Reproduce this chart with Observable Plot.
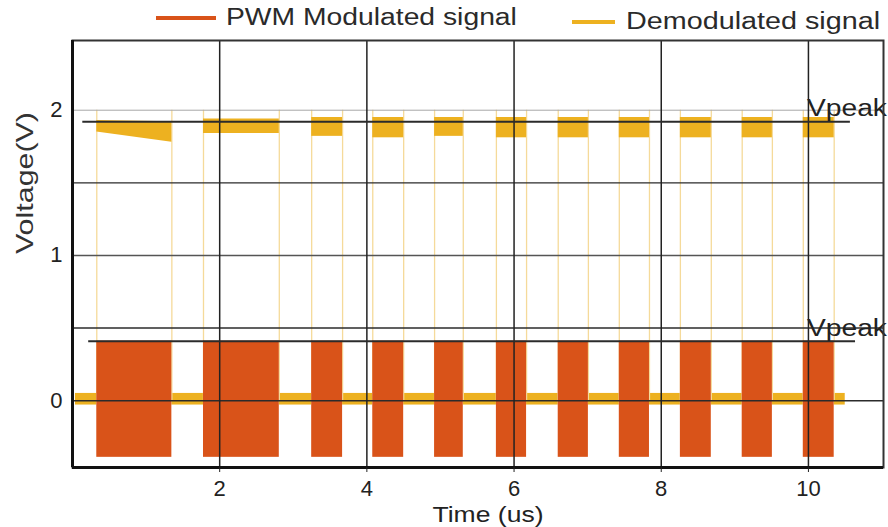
<!DOCTYPE html>
<html><head><meta charset="utf-8">
<script src="https://cdn.jsdelivr.net/npm/d3@7"></script>
<script src="https://cdn.jsdelivr.net/npm/@observablehq/plot@0.6"></script>
<style>
body{margin:0;background:#fff;font-family:"Liberation Sans",Arial,sans-serif;}
#legend{position:relative;height:36px;width:888px;overflow:hidden;}
.sw{position:absolute;height:4px;}
.lt{position:absolute;font-size:23px;line-height:23px;color:#2a2a2a;white-space:nowrap;transform-origin:left center;}
</style></head><body>
<div id="legend"></div>
<div id="chart"></div>
<script>
// ---- data ----
const seriesNames = ["PWM Modulated signal", "Demodulated signal"];
const seriesColors = ["#D95319", "#EDB120"];

// PWM pulse edges (us)
const pulseStart = [0.33, 1.78, 3.25, 4.08, 4.92, 5.76, 6.60, 7.43, 8.26, 9.10, 9.93];
const pulseEnd   = [1.35, 2.81, 3.67, 4.50, 5.31, 6.17, 7.01, 7.84, 8.68, 9.51, 10.35];
const pwmHigh = 0.41;
const pwmLow = -0.39;

// Demodulated signal: high level band per pulse (V)
const highTopStart    = [1.93, 1.94, 1.95, 1.95, 1.95, 1.95, 1.95, 1.95, 1.95, 1.95, 1.95];
const highTopEnd      = [1.92, 1.94, 1.95, 1.95, 1.95, 1.95, 1.95, 1.95, 1.95, 1.95, 1.95];
const highBottomStart = [1.85, 1.84, 1.82, 1.81, 1.82, 1.81, 1.81, 1.81, 1.81, 1.81, 1.81];
const highBottomEnd   = [1.78, 1.84, 1.82, 1.81, 1.82, 1.81, 1.81, 1.81, 1.81, 1.81, 1.81];
// low level band (V) and signal span (us)
const lowTop = 0.05;
const lowBottom = -0.03;
const signalStart = 0.04;
const signalEnd = 10.5;
const edgeTop = 2.0;

// reference levels
const gridLevels = [0, 0.5, 1, 1.5, 2];
const vpeakLevels = [1.92, 0.41];
const vpeakFrom = [0.14, 0.22];
const vpeakTo = [10.57, 10.64];
const vpeakLabelAt = 9.98;
const vpeakText = "Vpeak";

// ticks
const xTicks = [2, 4, 6, 8, 10];
const yTicks = [0, 1, 2];
const xDomain = [0, 11.02];
const yDomain = [-0.46, 2.48];
const xLabel = "Time (us)";
const yLabel = "Voltage(V)";

// ---- legend ----
const legend = document.getElementById("legend");
legend.innerHTML = `
  <div class="sw" style="left:156px;top:16px;width:60px;background:${seriesColors[0]}"></div>
  <div class="lt" style="left:226px;top:6px;transform:scaleX(1.23)">${seriesNames[0]}</div>
  <div class="sw" style="left:572px;top:20px;width:43px;background:${seriesColors[1]}"></div>
  <div class="lt" style="left:626px;top:10px;transform:scaleX(1.25)">${seriesNames[1]}</div>`;

// ---- derived tables ----
const lowStart = [signalStart, ...pulseEnd];
const lowEnd = [...pulseStart, signalEnd];
const lowSegs = lowStart.map((s, i) => ({x1: s, x2: lowEnd[i]}));
const pulses = pulseStart.map((s, i) => ({x1: s, x2: pulseEnd[i]}));
const highPts = pulseStart.flatMap((s, i) => [
  {t: s, lo: highBottomStart[i], hi: highTopStart[i], b: i},
  {t: pulseEnd[i], lo: highBottomEnd[i], hi: highTopEnd[i], b: i}
]);
const edges = [...pulseStart, ...pulseEnd];
const vpeaks = vpeakLevels.map((v, i) => ({v, x1: vpeakFrom[i], x2: vpeakTo[i]}));

const gridStroke = v => v === 2 ? "#a8a8a8" : v === 1 ? "#555" : "#2b2b2b";
const gridWidth = v => v === 2 ? 1 : 1.4;

const chart = Plot.plot({
  width: 888,
  height: 491,
  marginTop: 4,
  marginBottom: 60,
  marginLeft: 72,
  marginRight: 5,
  style: {fontFamily: "Liberation Sans, Arial, sans-serif", fontSize: "21px", color: "#222", background: "#fff"},
  x: {domain: xDomain},
  y: {domain: yDomain},
  marks: [
    // demodulated signal
    Plot.rect(lowSegs, {x1: "x1", x2: "x2", y1: lowBottom, y2: lowTop, fill: seriesColors[1]}),
    Plot.ruleX(edges, {x: d => d, y1: 0, y2: edgeTop, stroke: "#F5DA9A", strokeWidth: 1.3}),
    Plot.areaY(highPts, {x: "t", y1: "lo", y2: "hi", z: "b", fill: seriesColors[1]}),
    // PWM modulated signal
    Plot.rect(pulses, {x1: "x1", x2: "x2", y1: pwmLow, y2: pwmHigh, fill: seriesColors[0]}),
    // grid
    Plot.ruleY(gridLevels, {y: d => d, stroke: gridStroke, strokeWidth: gridWidth}),
    Plot.ruleX(xTicks, {x: d => d, stroke: "#222", strokeWidth: 1.5}),
    // Vpeak markers
    Plot.ruleY(vpeaks, {y: "v", x1: "x1", x2: "x2", stroke: "#2b2b2b", strokeWidth: 2}),
    Plot.text(vpeaks, {x: () => vpeakLabelAt, y: "v", text: () => vpeakText, textAnchor: "start", dy: -13, fontSize: 23, fill: "#222"}),
    // frame
    Plot.frame({stroke: "#333", strokeWidth: 2}),
    Plot.ruleX([xDomain[0]], {stroke: "#111", strokeWidth: 3}),
    Plot.ruleY([yDomain[0]], {stroke: "#111", strokeWidth: 3}),
    // axes
    Plot.axisX({ticks: xTicks, tickFormat: d3.format("d"), tickSize: 5, tickPadding: 8, label: null, fontSize: 22, fill: "#222"}),
    Plot.axisY({ticks: yTicks, tickFormat: d3.format("d"), tickSize: 0, tickPadding: 10, label: null, fontSize: 22, fill: "#222"}),
    // axis titles
    Plot.text([xLabel], {text: d => d, frameAnchor: "bottom", lineAnchor: "bottom", dx: 10, dy: 54, fontSize: 22, fill: "#222"}),
    Plot.text([yLabel], {text: d => d, frameAnchor: "left", rotate: -90, dx: -47, dy: 0, fontSize: 24, fill: "#333"})
  ]
});
// the reference's lettering is slightly stretched: match its widths
const stretch = {[xLabel]: 111, [yLabel]: 142, [vpeakText]: 80};
d3.select(chart).selectAll("text").each(function () {
  const w = stretch[this.textContent];
  if (w) d3.select(this).attr("textLength", w).attr("lengthAdjust", "spacingAndGlyphs");
});
document.getElementById("chart").appendChild(chart);
</script>
</body></html>
